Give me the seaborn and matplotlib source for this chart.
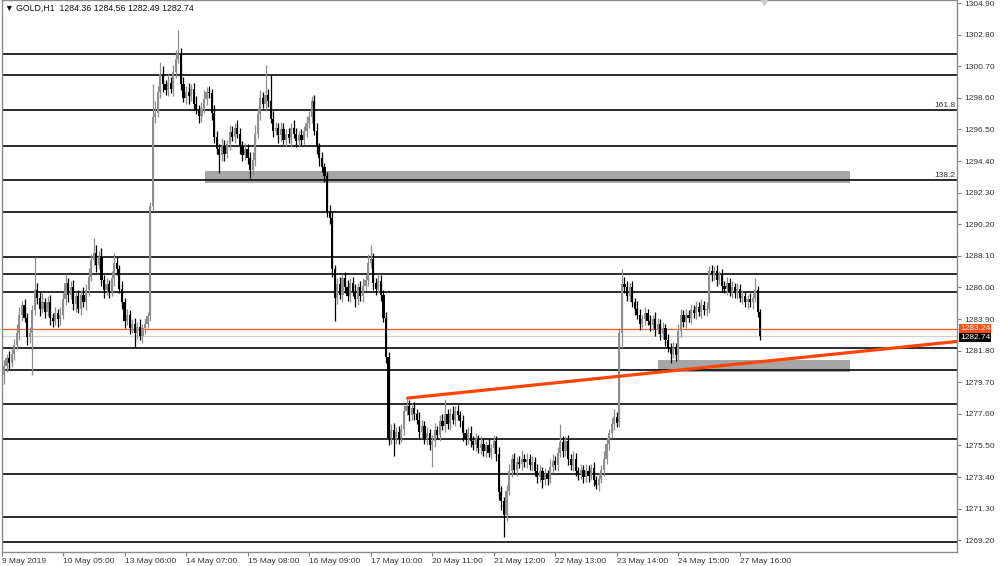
import numpy as np
import pandas as pd
import matplotlib
matplotlib.use('Agg')
import matplotlib.pyplot as plt
import seaborn as sns
from matplotlib.transforms import blended_transform_factory

## GOLD H1, 9 May - 27 May 2019 : close of every hourly bar
close = [
    1280.8, 1281.3, 1281.0, 1281.6, 1282.2, 1283.0, 1284.2, 1284.8, 1284.0, 1282.7,
    1283.0, 1284.5, 1285.8, 1285.3, 1284.6, 1285.0, 1284.4, 1285.0, 1284.0, 1283.8,
    1284.3, 1283.9, 1284.2, 1285.2, 1286.3, 1285.5, 1286.0, 1284.9, 1285.4, 1284.6,
    1285.5, 1285.0, 1285.8, 1286.7, 1287.8, 1288.3, 1287.5, 1288.0, 1286.5, 1285.8,
    1286.2, 1285.7, 1286.6, 1287.6, 1287.2, 1285.9, 1285.0, 1283.8, 1284.2, 1283.3,
    1283.6, 1283.0, 1283.4, 1282.8, 1283.3, 1283.6, 1284.1, 1291.4, 1297.3, 1297.6,
    1299.0, 1300.2, 1299.5, 1299.1, 1299.6, 1299.2, 1300.3, 1301.2, 1301.5, 1299.5,
    1298.6, 1299.0, 1298.7, 1299.2, 1298.2, 1297.8, 1297.4, 1297.9, 1298.5, 1299.0,
    1298.9, 1297.6, 1296.0, 1295.2, 1294.8, 1295.4, 1294.9, 1295.5, 1296.3, 1296.0,
    1296.6, 1296.2, 1295.4, 1294.8, 1295.2, 1294.6, 1293.8, 1294.5, 1296.2, 1297.5,
    1298.6, 1298.2, 1298.8, 1298.4, 1297.2, 1296.4, 1296.6, 1296.1, 1296.5, 1295.8,
    1296.2, 1295.9, 1296.6, 1296.2, 1295.7, 1296.1, 1295.8, 1296.4, 1296.9, 1297.3,
    1298.4, 1296.4, 1295.3, 1294.6, 1294.0, 1293.4, 1291.0, 1290.6, 1287.2, 1285.3,
    1286.2, 1285.5, 1286.6, 1286.0, 1285.4, 1286.3, 1285.7, 1285.2, 1286.0, 1285.4,
    1286.1, 1286.5, 1287.6, 1287.9, 1286.3, 1285.9, 1286.4, 1285.5, 1284.0, 1281.4,
    1276.0, 1276.5, 1275.9, 1276.4, 1276.0, 1276.6, 1277.8, 1278.1, 1277.5, 1278.0,
    1277.6, 1277.2, 1276.4, 1276.8, 1275.9, 1276.3, 1275.5, 1275.8, 1276.5, 1276.2,
    1277.1, 1276.8, 1277.6, 1276.9, 1277.6, 1277.2, 1277.8, 1277.5, 1277.1, 1276.3,
    1275.9, 1276.3, 1275.8, 1275.5, 1275.9, 1275.3, 1275.6, 1275.1, 1275.5, 1275.0,
    1275.3, 1275.8, 1274.9, 1272.4, 1271.8, 1270.9, 1272.5, 1273.8, 1274.6, 1273.9,
    1274.4, 1274.3, 1274.6, 1274.4, 1274.6, 1274.2, 1274.4, 1273.8, 1273.4, 1273.8,
    1273.2, 1273.6, 1273.3, 1274.1, 1274.5, 1274.2, 1275.0, 1275.7, 1275.1, 1275.8,
    1274.6, 1274.2, 1274.6, 1273.8, 1273.6, 1273.9, 1273.4, 1273.8, 1273.5, 1274.0,
    1273.2, 1272.9, 1273.3, 1273.9, 1274.6, 1275.6, 1276.3, 1276.9, 1277.4, 1277.0,
    1283.0, 1286.2, 1286.0, 1285.4, 1286.0, 1285.0, 1284.6, 1284.2, 1283.6, 1283.9,
    1284.3, 1283.8, 1283.5, 1283.9, 1283.2, 1283.6, 1282.9, 1283.3, 1282.5, 1282.0,
    1281.6, 1282.0, 1281.5, 1283.1, 1284.2, 1283.7, 1284.2, 1284.0, 1284.5, 1284.3,
    1284.7, 1284.4, 1284.8, 1284.5, 1284.6, 1287.1, 1286.8, 1287.1, 1286.5, 1286.8,
    1286.1, 1285.9, 1286.3, 1285.7, 1286.0, 1285.6, 1285.9, 1285.3, 1285.4, 1285.0,
    1285.2, 1285.0, 1285.3, 1285.8, 1284.36, 1282.74,
]
first_open = 1280.2

# wick above / below the body
wick_up = [
    0.4, 0.3, 0.5, 0.3, 0.4, 0.6, 0.5, 0.3, 0.4, 0.3,
    0.4, 0.3, 2.2, 0.5, 0.4, 0.6, 0.3, 0.4, 0.5, 0.3,
    0.4, 0.3, 0.5, 0.4, 0.6, 0.3, 0.4, 0.5, 0.3, 0.4,
    0.3, 0.5, 0.4, 0.6, 0.4, 1.0, 0.5, 0.4, 0.6, 0.3,
    0.4, 0.3, 0.5, 0.7, 0.4, 0.3, 0.5, 0.3, 0.4, 0.3,
    0.3, 0.4, 0.3, 0.5, 0.3, 0.4, 0.3, 0.3, 2.2, 0.8,
    0.4, 0.8, 0.5, 0.3, 0.6, 0.4, 0.5, 0.6, 1.6, 0.4,
    0.5, 0.4, 0.6, 0.3, 0.4, 0.5, 0.3, 0.4, 0.6, 0.3,
    0.4, 0.3, 0.5, 0.4, 0.3, 0.5, 0.4, 0.3, 0.5, 0.4,
    0.3, 0.5, 0.4, 0.3, 0.4, 0.3, 0.4, 0.5, 0.6, 0.4,
    0.5, 0.4, 2.0, 0.4, 1.7, 0.5, 0.4, 0.3, 0.5, 0.4,
    0.3, 0.4, 0.3, 0.5, 0.4, 0.3, 0.4, 0.3, 0.5, 0.4,
    0.3, 0.4, 0.5, 0.3, 0.4, 0.3, 0.3, 0.5, 0.4, 0.3,
    0.4, 0.5, 0.3, 0.4, 0.5, 0.3, 0.4, 0.5, 0.3, 0.4,
    0.5, 0.4, 0.6, 0.9, 0.4, 0.3, 0.5, 0.4, 0.3, 0.4,
    0.3, 0.4, 0.5, 0.3, 0.4, 0.3, 0.4, 0.6, 0.4, 0.3,
    0.4, 0.3, 0.5, 0.4, 0.3, 0.4, 0.3, 0.4, 0.5, 0.3,
    0.4, 0.5, 1.0, 0.3, 0.4, 0.5, 0.3, 0.4, 0.3, 0.4,
    0.3, 0.4, 0.5, 0.3, 0.4, 0.3, 0.5, 0.4, 0.3, 0.4,
    0.3, 0.4, 0.3, 0.5, 0.4, 0.3, 0.4, 0.5, 0.3, 0.4,
    0.3, 0.4, 0.6, 0.3, 0.4, 0.3, 0.4, 0.3, 0.5, 0.4,
    0.3, 0.4, 0.3, 0.5, 0.4, 0.3, 0.4, 1.2, 0.4, 0.3,
    0.4, 0.3, 0.5, 0.4, 0.3, 0.4, 0.3, 0.5, 0.4, 0.3,
    0.4, 0.3, 0.4, 0.3, 0.5, 0.4, 0.3, 0.4, 0.5, 0.3,
    0.3, 1.0, 0.5, 0.4, 0.3, 0.4, 0.3, 0.5, 0.4, 0.3,
    0.4, 0.3, 0.4, 0.3, 0.5, 0.4, 0.3, 0.4, 0.3, 0.4,
    0.3, 0.4, 0.3, 0.5, 0.4, 0.3, 0.4, 0.3, 0.4, 0.3,
    0.4, 0.3, 0.4, 0.3, 0.4, 0.3, 0.4, 0.3, 0.4, 0.3,
    0.4, 0.3, 0.4, 0.3, 0.4, 0.3, 0.4, 0.3, 0.4, 0.3,
    0.3, 0.4, 0.3, 0.8, 0.3, 0.2,
]
wick_dn = [
    0.6, 0.4, 0.5, 0.3, 0.4, 0.3, 0.5, 0.4, 0.3, 0.5,
    0.4, 2.8, 0.3, 0.4, 0.5, 0.3, 0.4, 0.3, 0.5, 0.4,
    0.3, 0.5, 0.4, 0.3, 0.4, 0.5, 0.3, 0.4, 0.5, 0.3,
    0.4, 0.3, 0.5, 0.4, 0.3, 0.4, 0.5, 0.3, 0.4, 0.5,
    0.3, 0.4, 0.3, 0.5, 0.4, 0.3, 0.4, 0.5, 0.3, 0.4,
    0.3, 1.0, 0.4, 0.3, 0.5, 0.4, 0.3, 0.3, 0.3, 0.4,
    0.3, 0.4, 0.5, 0.3, 0.4, 0.3, 0.5, 0.4, 0.3, 0.4,
    0.3, 0.4, 0.5, 0.3, 0.4, 0.3, 0.5, 0.4, 0.3, 0.4,
    0.3, 0.5, 0.4, 0.3, 1.2, 0.4, 0.5, 0.3, 0.4, 0.3,
    0.4, 0.3, 0.5, 0.4, 0.3, 0.4, 0.5, 0.3, 0.4, 0.3,
    0.4, 0.3, 0.5, 0.4, 0.3, 0.4, 0.3, 0.5, 0.4, 0.3,
    0.4, 0.3, 0.5, 0.3, 0.4, 0.3, 0.4, 0.3, 0.4, 0.3,
    0.4, 0.3, 0.4, 0.5, 0.3, 0.4, 0.3, 0.4, 0.5, 1.5,
    0.4, 0.3, 0.5, 0.4, 0.3, 0.4, 0.3, 0.5, 0.4, 0.3,
    0.4, 0.3, 0.4, 0.3, 0.5, 0.4, 0.3, 0.4, 0.3, 0.4,
    0.5, 0.4, 1.1, 0.3, 0.4, 0.3, 0.4, 0.3, 0.4, 0.3,
    0.4, 0.3, 0.5, 0.4, 0.3, 0.4, 0.3, 1.4, 0.4, 0.3,
    0.4, 0.3, 0.4, 0.3, 0.4, 0.3, 0.4, 0.3, 0.4, 0.5,
    0.4, 0.3, 0.4, 0.3, 0.4, 0.3, 0.4, 0.3, 0.4, 0.3,
    0.4, 0.3, 0.4, 0.5, 0.6, 1.5, 0.4, 0.3, 0.4, 0.3,
    0.4, 0.3, 0.4, 0.3, 0.4, 0.3, 0.4, 0.3, 0.4, 0.3,
    0.5, 0.3, 0.4, 0.3, 0.4, 0.3, 0.4, 0.3, 0.4, 0.3,
    0.4, 0.3, 0.4, 0.3, 0.4, 0.3, 0.4, 0.3, 0.4, 0.3,
    0.4, 0.3, 0.4, 0.3, 0.4, 0.3, 0.4, 0.3, 0.4, 0.3,
    0.3, 1.0, 0.4, 0.3, 0.4, 0.3, 0.4, 0.3, 0.4, 0.3,
    0.4, 0.3, 0.4, 0.3, 0.4, 0.3, 0.4, 0.3, 0.4, 0.3,
    0.6, 0.3, 0.4, 0.3, 0.4, 0.3, 0.4, 0.3, 0.4, 0.3,
    0.4, 0.3, 0.4, 0.3, 0.4, 0.3, 0.4, 0.3, 0.4, 0.3,
    0.4, 0.3, 0.4, 0.3, 0.4, 0.3, 0.4, 0.3, 0.4, 0.3,
    0.4, 0.3, 0.4, 0.3, 0.3, 0.25,
]

# horizontal support / resistance lines
levels = [1301.51, 1300.12, 1297.79, 1295.40, 1293.14, 1291.01, 1288.02, 1286.89,
          1285.70, 1281.98, 1280.51, 1278.25, 1275.93, 1273.60, 1270.75, 1269.09]
fib_labels = ['161.8', '138.2']
fib_prices = [1297.79, 1293.14]

# grey zones (bar from, bar to, price low, price high)
zone_bars = [(78.3, 330.0), (255.2, 330.0)]
zone_prices = [(1292.94, 1293.74), (1280.38, 1281.18)]

# trend line (bar, price)
trend_bars = [157.4, 371.7]
trend_prices = [1278.65, 1282.41]

ask_price = 1283.24
bid_price = 1282.74

x_labels = ['9 May 2019', '10 May 05:00', '13 May 06:00', '14 May 07:00', '15 May 08:00',
            '16 May 09:00', '17 May 10:00', '20 May 11:00', '21 May 12:00', '22 May 13:00',
            '23 May 14:00', '24 May 15:00', '27 May 16:00']
y_ticks = [1269.20, 1271.30, 1273.40, 1275.50, 1277.60, 1279.70, 1281.80, 1283.90, 1286.00,
           1288.10, 1290.20, 1292.30, 1294.40, 1296.50, 1298.60, 1300.70, 1302.80, 1304.90]

## OHLC 테이블
df = pd.DataFrame({'close': close, 'up': wick_up, 'dn': wick_dn})
df['open'] = df['close'].shift(1).fillna(first_open)
df['top'] = df[['open', 'close']].max(axis=1)
df['bot'] = df[['open', 'close']].min(axis=1)
df['high'] = df['top'] + df['up']
df['low'] = df['bot'] - df['dn']
df['bull'] = df['close'] >= df['open']
idx = np.arange(len(df))

sns.set_theme(style='white')
plt.rcParams['font.family'] = ['Liberation Sans', 'DejaVu Sans']
fs = 6.0

fig = plt.figure(figsize=(10, 5.66), dpi=100)
ax = fig.add_axes([0.002, 14 / 566, 0.955, 552 / 566])

# zones behind everything
for (b0, b1), (p0, p1) in zip(zone_bars, zone_prices):
    ax.fill_between([b0, b1], p0, p1, color='#a6a6a6', lw=0, zorder=1)

for lv in levels:
    ax.axhline(lv, color='#111111', lw=1.25, zorder=2)

ax.axhline(bid_price, color='#cfcfcf', lw=0.8, zorder=2)
ax.axhline(ask_price, color='#ff5a1e', lw=0.9, zorder=2)

# candles
colors = np.where(df['bull'], '#8e8e8e', '#000000')
ax.vlines(idx, df['low'], df['high'], colors=colors, lw=0.9, zorder=3)
heights = (df['top'] - df['bot']).clip(lower=0.05)
ax.bar(idx, heights, bottom=df['bot'], width=0.85, color=colors, lw=0, zorder=3)

# trend line
sns.lineplot(x=trend_bars, y=trend_prices, color='#ff4500', lw=2.3, ax=ax, zorder=4)

ax.set_xlim(-0.78, 371.7)
ax.set_ylim(1268.42, 1305.1)

# fib labels
for lab, p in zip(fib_labels, fib_prices):
    ax.text(371.0, p + 0.05, lab, ha='right', va='bottom', fontsize=fs, color='#333333', zorder=5)

# axes styling
ax.yaxis.tick_right()
ax.set_yticks(y_ticks)
ax.set_yticklabels([f'{v:.2f}' for v in y_ticks])
ax.set_xticks([-0.78] + [23 + 24 * k for k in range(len(x_labels) - 1)])
ax.set_xticklabels(x_labels)
for t in ax.get_xticklabels():
    t.set_ha('left')
ax.tick_params(axis='y', which='both', right=True, length=3, width=0.8, pad=2,
               labelsize=fs, colors='#333333', color='#808080')
ax.tick_params(axis='x', which='both', bottom=True, length=3, width=0.8, pad=1,
               labelsize=fs, colors='#333333', color='#808080')
for s in ax.spines.values():
    s.set_color('#8a8a8a')
    s.set_linewidth(1.0)
ax.set_xlabel('')
ax.set_ylabel('')
ax.grid(False)

# price boxes on the right axis
tr = blended_transform_factory(ax.transAxes, ax.transData)
ax.text(1.003, ask_price, f'{ask_price:.2f}', transform=tr, ha='left', va='center', fontsize=fs,
        color='white', clip_on=False, zorder=6,
        bbox=dict(boxstyle='square,pad=0.15', fc='#ff4a10', ec='none'))
ax.text(1.003, bid_price - 0.08, f'{bid_price:.2f}', transform=tr, ha='left', va='center', fontsize=fs,
        color='white', clip_on=False, zorder=6,
        bbox=dict(boxstyle='square,pad=0.15', fc='#000000', ec='none'))

# header
fig.text(0.005, 1 - 8.5 / 566, '\u25bc GOLD,H1  1284.36 1284.56 1282.49 1282.74',
         fontsize=6.3, color='#111111', va='center', ha='left',
         family=['Liberation Sans', 'DejaVu Sans'])

# chart shift marker
ax.plot([296.5], [1305.0], marker='v', ms=5, color='#c8c8c8', clip_on=False, zorder=6)

fig.savefig('out.png', dpi=100)
